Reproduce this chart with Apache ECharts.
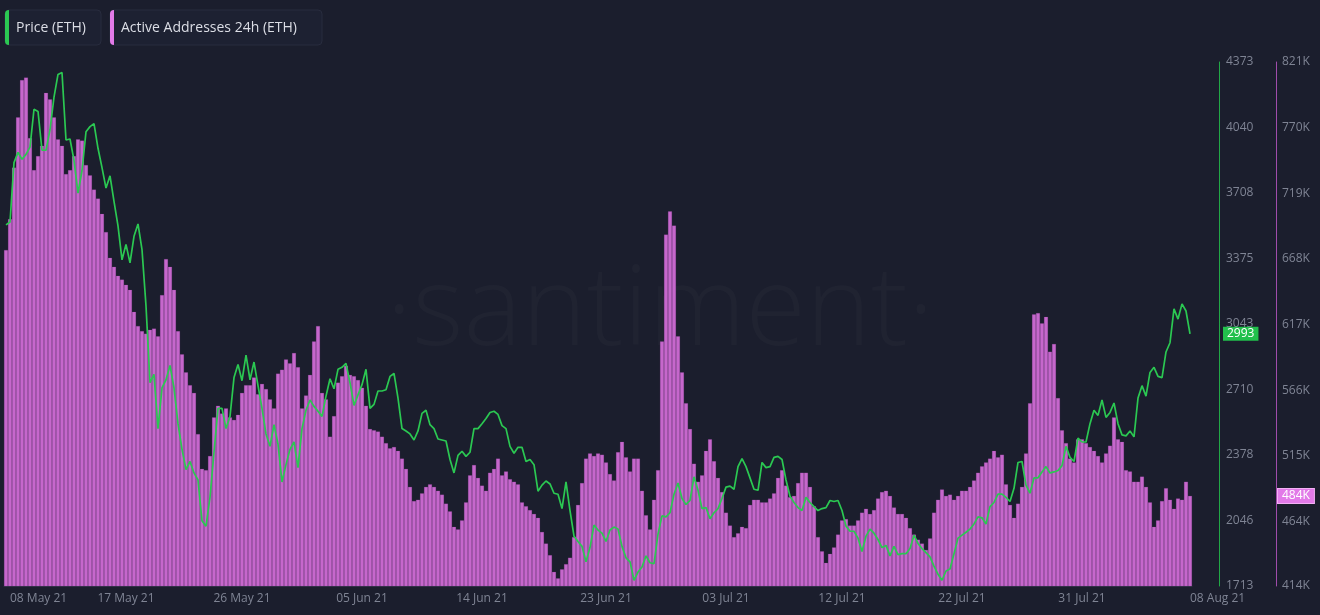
<!DOCTYPE html>
<html><head><meta charset="utf-8">
<script src="https://cdn.jsdelivr.net/npm/echarts@6/dist/echarts.min.js"></script>
<style>html,body{margin:0;padding:0;background:#1b1e2d;}#c{width:1320px;height:615px;}</style>
</head><body><div id="c"></div>
<script>
// Active Addresses 24h (ETH), thousands
const addrData = [
675,699,739,778,807,809,762,737,748,756,797,792,778,761,756,734,737,748,761,760,741,733,722,715,703,689,669,662,655,652,648,644,627,616,612,610,613,614,608,640,668,662,644,612,594,580,570,564,532,505,504,515,545,554,548,552,545,543,547,
564,570,570,576,563,571,567,559,552,579,582,590,587,595,584,552,562,578,604,616,564,559,530,546,572,577,585,578,577,574,568,554,536,535,534,530,525,521,522,519,513,505,491,480,481,486,491,493,491,488,485,478,472,460,458,465,479,500,508,
498,492,488,502,505,513,500,503,497,495,493,479,476,473,470,467,456,447,438,425,420,427,431,436,452,477,494,513,517,515,517,516,510,501,496,518,526,514,503,513,513,488,469,458,481,504,604,687,705,694,608,580,556,536,509,495,500,519,528,
511,498,487,471,461,452,455,460,459,477,481,481,479,479,482,486,498,504,492,483,484,494,502,502,491,476,452,441,432,439,444,454,465,466,461,461,465,471,474,470,473,482,487,488,484,475,470,470,467,459,454,450,447,442,451,471,481,489,484,
485,481,484,488,488,491,496,502,507,510,513,519,514,516,493,477,467,478,491,517,556,625,626,618,623,596,602,560,535,525,513,510,528,528,525,522,519,515,510,517,523,545,528,526,504,503,495,495,499,491,479,460,465,480,490,481,474,482,481,495,484
];
// Price (ETH), USD
const priceData = [
3546,3561,3862,3914,3879,3904,3941,4133,4122,3925,3925,4029,4195,4310,4320,3977,3982,3874,3707,3821,4019,4045,4060,3935,3837,3733,3795,3666,3541,3369,3447,3353,3488,3551,3421,3135,2745,2787,2512,2719,2760,2833,2719,2537,2407,2304,2345,2287,2251,2044,2017,2163,2392,2615,2615,2512,2574,2771,2838,
2755,2885,2760,2850,2730,2615,2485,2422,2532,2434,2241,2329,2407,2444,2314,2512,2605,2657,2625,2600,2574,2677,2765,2714,2813,2823,2843,2745,2630,2683,2735,2813,2615,2635,2703,2703,2709,2777,2792,2667,2512,2500,2485,2454,2500,2589,2605,2532,2512,2459,2454,2449,2355,2287,2376,2397,2371,2392,2512,
2512,2537,2563,2594,2600,2584,2527,2512,2422,2387,2417,2417,2345,2355,2329,2194,2225,2246,2231,2184,2179,2106,2241,2096,1966,1939,1914,1836,1908,2022,1997,1981,1939,1997,2012,2002,1914,1856,1836,1742,1784,1809,1866,1831,1826,1976,2069,2064,2085,2179,2236,2157,2127,2147,2267,2199,2106,2111,2054,
2085,2106,2157,2215,2220,2204,2319,2360,2319,2262,2204,2199,2340,2314,2319,2366,2371,2355,2251,2169,2137,2111,2096,2163,2137,2116,2096,2106,2111,2147,2142,2147,2096,2017,1991,1991,1956,1888,1966,2002,1981,1949,1908,1919,1866,1914,1872,1877,1877,1903,1971,1929,1903,1882,1861,1814,1773,1742,1789,
1799,1877,1956,1971,1986,2002,2028,2064,2059,2028,2116,2137,2179,2179,2163,2142,2209,2340,2345,2225,2184,2262,2262,2292,2319,2287,2292,2299,2324,2422,2366,2345,2464,2444,2444,2537,2605,2579,2657,2569,2594,2642,2537,2480,2475,2500,2470,2667,2730,2677,2797,2823,2777,2771,2901,2948,3120,3068,3145,3109,2993
];
const xTickIdx = [0,30,59,89,119,150,180,209,239,269,296];
const xTickLabels = ['08 May 21','17 May 21','26 May 21','05 Jun 21','14 Jun 21','23 Jun 21','03 Jul 21','12 Jul 21','22 Jul 21','31 Jul 21','08 Aug 21'];
const priceTicks = [1713,2046,2378,2710,3043,3375,3708,4040,4373];
const addrTicks = [414,464,515,566,617,668,719,770,821];

const N = addrData.length;
const categories = [];
for (let i = 0; i < N; i++) {
  if (i === 0) categories.push({value: String(i), textStyle: {align: 'left', padding: [0, 0, 0, 4]}});
  else if (i === N - 1) categories.push({value: String(i), textStyle: {align: 'left'}});
  else categories.push(String(i));
}
const lastPrice = priceData[priceData.length - 1];
const lastAddr = addrData[addrData.length - 1];
const labelColor = '#7f8494';
const FONT = '"Open Sans", sans-serif';

const chart = echarts.init(document.getElementById('c'), null, {renderer: 'canvas'});
chart.setOption({
  backgroundColor: '#1b1e2d',
  animation: false,
  grid: {left: 4, right: 128, top: 62, bottom: 29, containLabel: false, outerBoundsMode: 'none'},
  xAxis: {
    type: 'category', data: categories, boundaryGap: true,
    axisLine: {show: true, lineStyle: {color: '#2c3042'}},
    axisTick: {show: false},
    splitLine: {show: false},
    axisLabel: {
      interval: function (idx) { return xTickIdx.indexOf(idx) >= 0; },
      formatter: function (v, idx) { const k = xTickIdx.indexOf(Number(v)); return k >= 0 ? xTickLabels[k] : ''; },
      color: labelColor, fontSize: 12, fontFamily: FONT, margin: 7
    }
  },
  yAxis: [
    {
      type: 'value', position: 'right', offset: 27, min: 1713, max: 4373,
      axisLine: {show: true, lineStyle: {color: '#22a846', width: 1}},
      axisTick: {show: false}, splitLine: {show: false},
      axisLabel: {customValues: priceTicks, formatter: function (v) { return String(Math.round(v)); },
        color: labelColor, fontSize: 12, fontFamily: FONT, margin: 7}
    },
    {
      type: 'value', position: 'right', offset: 84, min: 414, max: 821,
      axisLine: {show: true, lineStyle: {color: '#a04cab', width: 1}},
      axisTick: {show: false}, splitLine: {show: false},
      axisLabel: {customValues: addrTicks, formatter: function (v) { return Math.round(v) + 'K'; },
        color: labelColor, fontSize: 12, fontFamily: FONT, margin: 6}
    }
  ],
  series: [
    {
      name: 'Active Addresses 24h (ETH)', type: 'bar', yAxisIndex: 1, data: addrData,
      barCategoryGap: '0%',
      itemStyle: {color: '#c667cc', borderColor: 'rgba(150,70,160,0.45)', borderWidth: 0.4},
      z: 2,
      markLine: {
        silent: true, symbol: 'none', animation: false,
        lineStyle: {width: 0, color: 'rgba(0,0,0,0)'},
        data: [{yAxis: lastAddr}],
        label: {show: true, position: 'end', distance: 86, formatter: lastAddr + 'K',
          color: '#ffffff', backgroundColor: '#e27ae8', borderColor: '#f3b0f5', borderWidth: 1,
          padding: [1, 4, 0, 4], fontSize: 12, fontFamily: FONT, lineHeight: 13}
      }
    },
    {
      name: 'Price (ETH)', type: 'line', yAxisIndex: 0, data: priceData,
      symbol: 'none', lineStyle: {color: '#2bc852', width: 1.7}, z: 5,
      markLine: {
        silent: true, symbol: 'none', animation: false,
        lineStyle: {width: 0, color: 'rgba(0,0,0,0)'},
        data: [{yAxis: lastPrice}],
        label: {show: true, position: 'end', distance: 31, formatter: String(lastPrice),
          color: '#ffffff', backgroundColor: '#22c04c',
          padding: [1, 4, 0, 4], fontSize: 12, fontFamily: FONT, lineHeight: 13}
      }
    }
  ],
  graphic: [
    {type: 'text', x: 660, y: 314, z: 0, silent: true,
      style: {text: '·santiment·', align: 'center', verticalAlign: 'middle', fontSize: 110,
        fontFamily: FONT, fontWeight: 300, fill: 'rgba(255,255,255,0.025)'}},
    {type: 'rect', z: 100, shape: {x: 5, y: 10, width: 96, height: 35, r: 4},
      style: {fill: '#1d2132', stroke: '#282c3e', lineWidth: 1}},
    {type: 'rect', z: 101, shape: {x: 5, y: 10, width: 4, height: 35, r: [4, 0, 0, 4]},
      style: {fill: '#2bc852'}},
    {type: 'text', z: 102, x: 16, y: 28,
      style: {text: 'Price (ETH)', fontSize: 14, fontFamily: FONT, fill: '#dcdee6', verticalAlign: 'middle'}},
    {type: 'rect', z: 100, shape: {x: 110, y: 10, width: 212, height: 35, r: 4},
      style: {fill: '#1d2132', stroke: '#282c3e', lineWidth: 1}},
    {type: 'rect', z: 101, shape: {x: 110, y: 10, width: 4, height: 35, r: [4, 0, 0, 4]},
      style: {fill: '#e27ae8'}},
    {type: 'text', z: 102, x: 121, y: 28,
      style: {text: 'Active Addresses 24h (ETH)', fontSize: 14, fontFamily: FONT, fill: '#dcdee6', verticalAlign: 'middle'}}
  ]
});
</script>
</body></html>
